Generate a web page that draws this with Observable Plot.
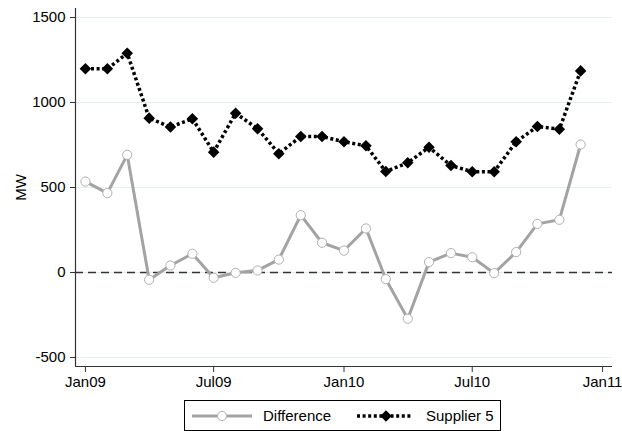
<!DOCTYPE html>
<html>
<head>
<meta charset="utf-8">
<script src="https://cdn.jsdelivr.net/npm/d3@7"></script>
<script src="https://cdn.jsdelivr.net/npm/@observablehq/plot@0.6"></script>
<style>
  html, body { margin: 0; padding: 0; background: #fff; }
  body { width: 622px; height: 431px; position: relative; overflow: hidden; font-family: "Liberation Sans", Arial, sans-serif; }
  #legend { position: absolute; left: 184px; top: 400px; }
</style>
</head>
<body>
<div id="chart"></div>
<div id="legend"></div>
<script>
const months = ["2009-01","2009-02","2009-03","2009-04","2009-05","2009-06","2009-07","2009-08","2009-09","2009-10","2009-11","2009-12",
                "2010-01","2010-02","2010-03","2010-04","2010-05","2010-06","2010-07","2010-08","2010-09","2010-10","2010-11","2010-12"];
const difference = [535, 467, 692, -43, 41, 110, -31, -2, 12, 76, 337, 175,
                    129, 259, -39, -272, 61, 114, 90, -4, 120, 286, 310, 753];
const supplier5 = [1198, 1198, 1290, 908, 856, 905, 708, 937, 846, 699, 800, 800,
                   769, 745, 594, 645, 737, 629, 593, 593, 769, 859, 843, 1186];
const seriesNames = ["Difference", "Supplier 5"];
const xTicks = ["2009-01-01", "2009-07-01", "2010-01-01", "2010-07-01", "2011-01-01"];
const xTickLabels = ["Jan09", "Jul09", "Jan10", "Jul10", "Jan11"];
const yTicks = [-500, 0, 500, 1000, 1500];
const yLabel = "MW";

const parse = d3.utcParse("%Y-%m");
const rows = months.map((m, i) => ({date: parse(m), diff: difference[i], sup: supplier5[i]}));
const tickDates = xTicks.map(d => new Date(d + "T00:00:00Z"));
const labelOf = new Map(tickDates.map((d, i) => [+d, xTickLabels[i]]));
const xDomain = [new Date("2008-12-18T00:00:00Z"), new Date("2011-01-15T00:00:00Z")];
const yDomain = [-553, 1553];

const grey = "#a3a3a3";
const chart = Plot.plot({
  width: 622,
  height: 398,
  marginLeft: 75,
  marginRight: 10,
  marginTop: 8,
  marginBottom: 32,
  style: {fontFamily: "Liberation Sans, Arial, sans-serif", fontSize: "15px", color: "#000", background: "#fff"},
  x: {type: "utc", domain: xDomain},
  y: {domain: yDomain},
  marks: [
    Plot.gridY(yTicks, {stroke: "#e3eef0", strokeOpacity: 1, strokeWidth: 1.2}),
    Plot.ruleY([0], {stroke: "#333", strokeWidth: 1.5, strokeDasharray: "8,5"}),
    Plot.ruleX([xDomain[0]], {stroke: "#333", strokeWidth: 1.2}),
    Plot.ruleY([yDomain[0]], {stroke: "#333", strokeWidth: 1.2}),
    Plot.axisY(yTicks, {tickSize: 5, tickPadding: 5, stroke: "#333", fontSize: 15, tickFormat: d => String(d), label: yLabel, labelAnchor: "center", labelArrow: "none", labelOffset: 60}),
    Plot.axisX(tickDates, {tickSize: 6, tickPadding: 4, stroke: "#333", fontSize: 15, tickFormat: d => labelOf.get(+d), label: null}),
    Plot.line(rows, {x: "date", y: "sup", stroke: "#000", strokeWidth: 3.5, strokeDasharray: "3,2.6", strokeLinecap: "butt"}),
    Plot.dot(rows, {x: "date", y: "sup", symbol: "diamond2", r: 5.2, fill: "#000", stroke: "none"}),
    Plot.line(rows, {x: "date", y: "diff", stroke: grey, strokeWidth: 3}),
    Plot.dot(rows, {x: "date", y: "diff", r: 4.6, fill: "#fff", stroke: "#b0b0b0", strokeWidth: 1})
  ]
});
document.getElementById("chart").appendChild(chart);

// Legend
const lg = d3.select("#legend").append("svg").attr("width", 317).attr("height", 31);
lg.append("rect").attr("x", 0.5).attr("y", 0.5).attr("width", 316).attr("height", 30)
  .attr("fill", "#fff").attr("stroke", "#000").attr("stroke-width", 1);
// Difference sample
lg.append("line").attr("x1", 8).attr("x2", 68).attr("y1", 16).attr("y2", 16).attr("stroke", grey).attr("stroke-width", 3);
lg.append("circle").attr("cx", 38).attr("cy", 16).attr("r", 4.6).attr("fill", "#fff").attr("stroke", "#b0b0b0");
lg.append("text").attr("x", 79).attr("y", 16).attr("dy", "0.35em").attr("font-size", 15).attr("fill", "#000").text(seriesNames[0]);
// Supplier sample
lg.append("line").attr("x1", 173).attr("x2", 228).attr("y1", 16).attr("y2", 16).attr("stroke", "#000").attr("stroke-width", 3.5).attr("stroke-dasharray", "3,2.6");
lg.append("path").attr("d", d3.symbol(d3.symbolDiamond2, Math.PI * 5.2 * 5.2)()).attr("transform", "translate(202,16)").attr("fill", "#000");
lg.append("text").attr("x", 242).attr("y", 16).attr("dy", "0.35em").attr("font-size", 15).attr("fill", "#000").text(seriesNames[1]);
</script>
</body>
</html>
